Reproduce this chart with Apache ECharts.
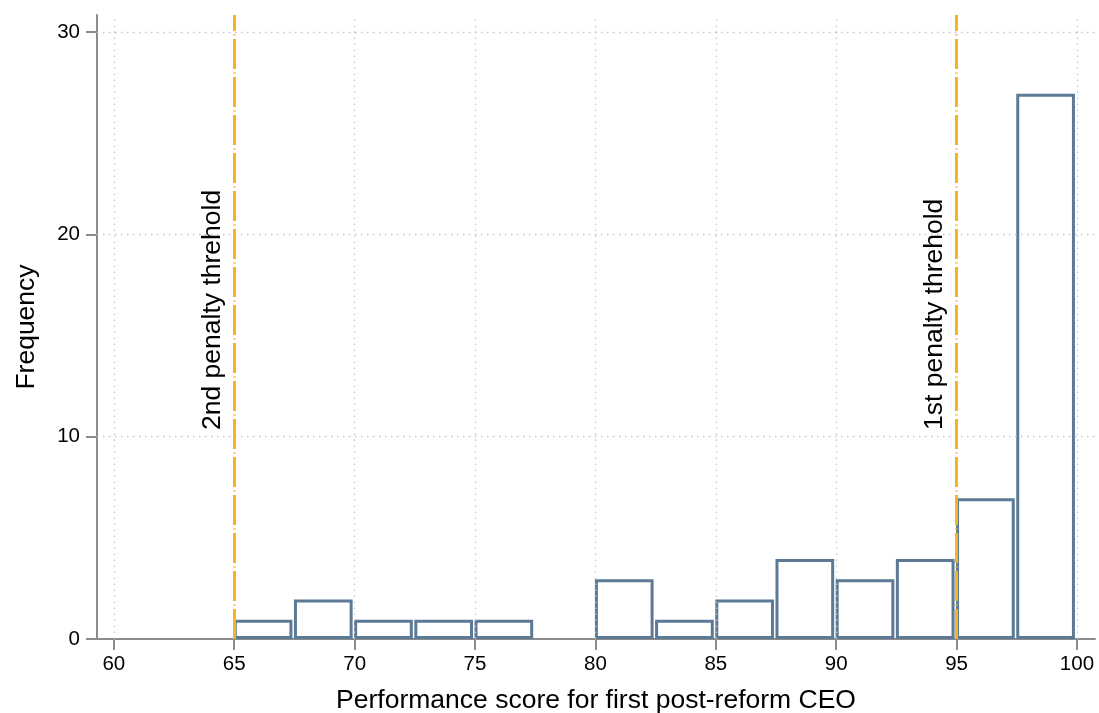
<!DOCTYPE html>
<html>
<head>
<meta charset="utf-8">
<script src="https://cdn.jsdelivr.net/npm/echarts@6/dist/echarts.min.js"></script>
<style>
  html, body { margin: 0; padding: 0; background: #fff; }
  #chart { width: 1099px; height: 713px; }
</style>
</head>
<body>
<div id="chart"></div>
<script>
// histogram bins (width 2.5) and counts
var binEdges = [65, 67.5, 70, 72.5, 75, 77.5, 80, 82.5, 85, 87.5, 90, 92.5, 95, 97.5, 100];
var frequency = [1, 2, 1, 1, 1, 0, 3, 1, 2, 4, 3, 4, 7, 27];

var xTicks = [60, 65, 70, 75, 80, 85, 90, 95, 100];
var yTicks = [0, 10, 20, 30];

var thresholds = [65, 95];
var thresholdNames = ['2nd penalty threhold', '1st penalty threhold'];

var font = "'Liberation Sans', Helvetica, Arial, sans-serif";
var barColor = '#5c7a96';
var lineColor = '#f8b41a';
var axisGray = '#8c8c8c';

var barData = [];
for (var i = 0; i < frequency.length; i++) {
	if (frequency[i] > 0) barData.push([binEdges[i], binEdges[i + 1], frequency[i]]);
}

var gridLines = [];
xTicks.forEach(function (v) { if (thresholds.indexOf(v) < 0) gridLines.push({ xAxis: v }); });
yTicks.forEach(function (v) { if (v > 0) gridLines.push({ yAxis: v }); });

var thresholdLines = thresholds.map(function (v, i) {
	return { xAxis: v, label: { formatter: thresholdNames[i] } };
});

var myChart = echarts.init(document.getElementById('chart'), null, { renderer: 'canvas' });

var option = {
	animation: false,
	backgroundColor: '#fff',
	grid: { left: 97, right: 4, top: 15, bottom: 74, containLabel: false, outerBoundsMode: 'none' },
	xAxis: {
		type: 'value',
		min: 59.3,
		max: 100.75,
		name: 'Performance score for first post-reform CEO',
		nameLocation: 'middle',
		nameGap: 48,
		nameTextStyle: { fontFamily: font, fontSize: 26.5, color: '#000' },
		axisLine: { lineStyle: { color: axisGray, width: 2 } },
		axisTick: { show: true, length: 11, lineStyle: { color: axisGray, width: 2 }, customValues: xTicks },
		axisLabel: { fontFamily: font, fontSize: 20.5, color: '#000', margin: 15, customValues: xTicks },
		splitLine: { show: false }
	},
	yAxis: {
		type: 'value',
		min: 0,
		max: 30.84,
		name: 'Frequency',
		nameLocation: 'middle',
		nameGap: 57,
		nameTextStyle: { fontFamily: font, fontSize: 26.5, color: '#000' },
		axisLine: { show: true, lineStyle: { color: axisGray, width: 2 } },
		axisTick: { show: true, length: 11, lineStyle: { color: axisGray, width: 2 }, customValues: yTicks },
		axisLabel: { fontFamily: font, fontSize: 20.5, color: '#000', margin: 17, customValues: yTicks },
		splitLine: { show: false }
	},
	series: [
		{
			// dotted grid lines
			type: 'line',
			data: [],
			z: 1,
			markLine: {
				silent: true,
				symbol: ['none', 'none'],
				label: { show: false },
				lineStyle: { color: '#c4c4c4', width: 1.3, type: [1.5, 4.5] },
				data: gridLines
			}
		},
		{
			// threshold lines
			type: 'line',
			data: [],
			z: 2,
			markLine: {
				silent: true,
				symbol: ['none', 'none'],
				lineStyle: { color: lineColor, width: 3, type: [30, 3.5, 1, 3.5] },
				label: {
					show: true,
					position: 'insideStartTop',
					distance: [209, 8],
					fontFamily: font,
					fontSize: 26.5,
					color: '#000'
				},
				data: thresholdLines
			}
		},
		{
			type: 'custom',
			z: 3,
			data: barData,
			renderItem: function (params, api) {
				var p0 = api.coord([api.value(0), 0]);
				var p1 = api.coord([api.value(1), api.value(2)]);
				var x0 = p0[0] + 1, x1 = p1[0] - 3.5;
				var yTop = p1[1] + 2.5, yBot = p0[1] - 1.5;
				return {
					type: 'rect',
					shape: { x: x0, y: yTop, width: x1 - x0, height: yBot - yTop },
					style: { fill: '#fff', stroke: barColor, lineWidth: 3 }
				};
			}
		}
	]
};

myChart.setOption(option);
</script>
</body>
</html>
